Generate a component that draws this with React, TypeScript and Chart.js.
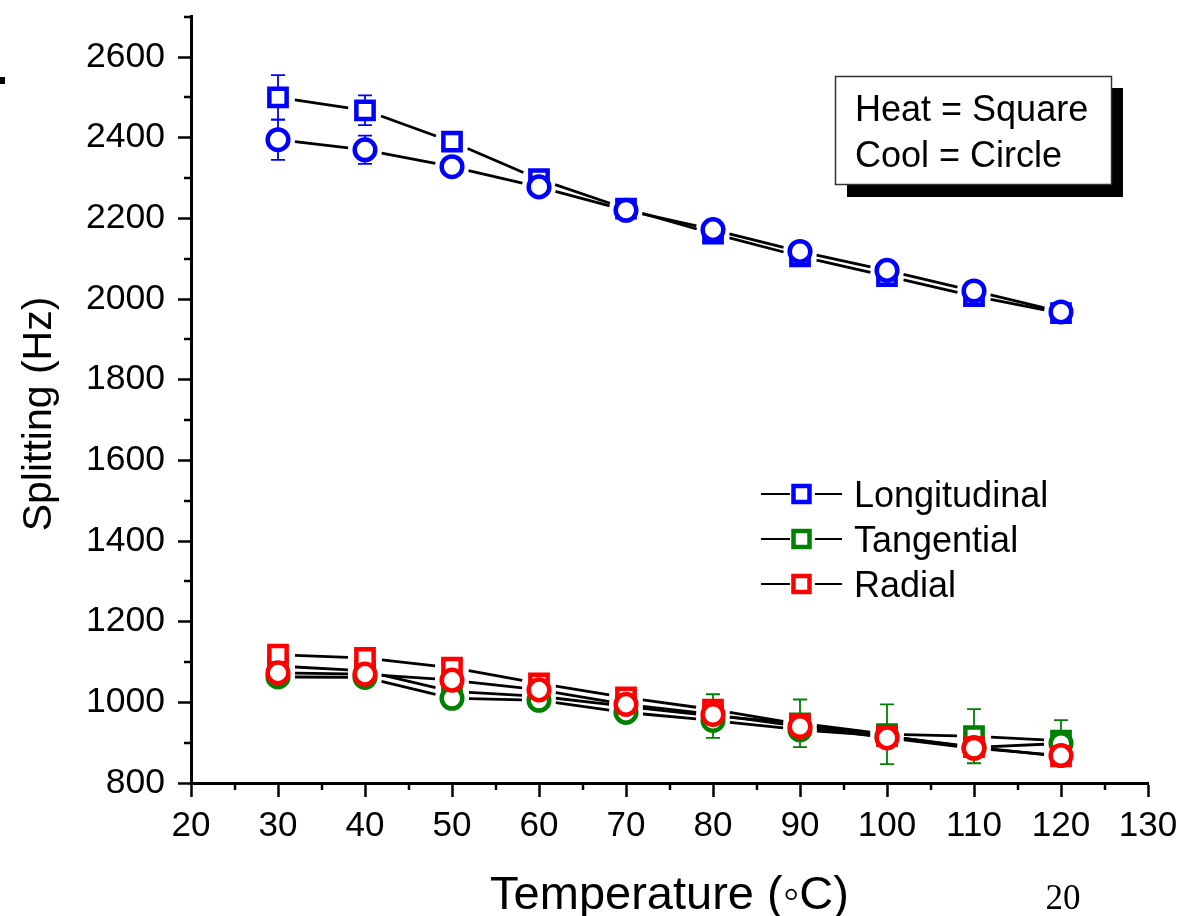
import React, { useEffect, useRef } from "react";
import { Chart, registerables } from "chart.js";

Chart.register(...registerables);

// Temperatures at which the splitting was measured (°C)
const TEMPERATURES = [30, 40, 50, 60, 70, 80, 90, 100, 110, 120];

// Longitudinal splitting (Hz)
const LONG_HEAT = [2500, 2468, 2390, 2297, 2224, 2162, 2106, 2057, 2007, 1965];
const LONG_HEAT_ERR = [55, 37, 12, 10, 10, 12, 10, 10, 10, 8];
const LONG_COOL = [2395, 2370, 2328, 2278, 2220, 2172, 2118, 2071, 2020, 1968];
const LONG_COOL_ERR = [50, 35, 10, 10, 8, 10, 10, 10, 8, 8];

// Tangential splitting (Hz)
const TANG_HEAT = [1090, 1078, 1027, 1015, 990, 966, 948, 921, 916, 905];
const TANG_HEAT_ERR = [15, 15, 15, 12, 12, 54, 59, 74, 67, 51];
const TANG_COOL = [1063, 1062, 1010, 1005, 975, 955, 932, 916, 888, 898];
const TANG_COOL_ERR = [12, 12, 25, 12, 12, 20, 20, 20, 20, 20];

// Radial splitting (Hz)
const RAD_HEAT = [1118, 1110, 1086, 1047, 1012, 982, 946, 916, 889, 866];
const RAD_HEAT_ERR = [15, 10, 10, 10, 10, 10, 10, 10, 10, 10];
const RAD_COOL = [1073, 1070, 1055, 1031, 995, 970, 940, 912, 886, 868];
const RAD_COOL_ERR = [10, 10, 10, 10, 10, 10, 10, 10, 10, 10];

// Axis ticks
const X_TICKS = [20, 30, 40, 50, 60, 70, 80, 90, 100, 110, 120, 130];
const X_MINOR = [25, 35, 45, 55, 65, 75, 85, 95, 105, 115, 125];
const Y_TICKS = [800, 1000, 1200, 1400, 1600, 1800, 2000, 2200, 2400, 2600];
const Y_MINOR = [900, 1100, 1300, 1500, 1700, 1900, 2100, 2300, 2500, 2700];

// Legend and annotation text
const LEGEND_LABELS = ["Longitudinal", "Tangential", "Radial"];
const LEGEND_COLORS = ["#0000ff", "#008000", "#ff0000"];
const NOTE_LINES = ["Heat = Square", "Cool = Circle"];
const X_TITLE = "Temperature (\u25E6C)";
const Y_TITLE = "Splitting (Hz)";
const PAGE_NUMBER = "20";

const SANS = "'Liberation Sans', Arial, Helvetica, sans-serif";
const SERIF = "'Liberation Serif', 'Times New Roman', serif";

type Series = {
  label: string;
  values: number[];
  errors: number[];
  color: string;
  style: "rect" | "circle";
  order: number;
};

const SERIES: Series[] = [
  { label: "Longitudinal heat", values: LONG_HEAT, errors: LONG_HEAT_ERR, color: LEGEND_COLORS[0], style: "rect", order: 5 },
  { label: "Longitudinal cool", values: LONG_COOL, errors: LONG_COOL_ERR, color: LEGEND_COLORS[0], style: "circle", order: 4 },
  { label: "Tangential heat", values: TANG_HEAT, errors: TANG_HEAT_ERR, color: LEGEND_COLORS[1], style: "rect", order: 3 },
  { label: "Tangential cool", values: TANG_COOL, errors: TANG_COOL_ERR, color: LEGEND_COLORS[1], style: "circle", order: 2 },
  { label: "Radial heat", values: RAD_HEAT, errors: RAD_HEAT_ERR, color: LEGEND_COLORS[2], style: "rect", order: 1 },
  { label: "Radial cool", values: RAD_COOL, errors: RAD_COOL_ERR, color: LEGEND_COLORS[2], style: "circle", order: 0 },
];

const RECT_RADIUS = 12.2;
const CIRCLE_RADIUS = 10.3;
const MARKER_BORDER = 4.5;

// Connecting segments with a small gap around each marker, plus error bars.
const underlayPlugin = {
  id: "underlay",
  beforeDatasetsDraw(chart: any) {
    const ctx = chart.ctx;
    const yScale = chart.scales.y;
    ctx.save();
    SERIES.forEach((s, i) => {
      const meta = chart.getDatasetMeta(i);
      const pts = meta.data;
      // error bars
      ctx.strokeStyle = s.color;
      ctx.lineWidth = 1.8;
      pts.forEach((p: any, k: number) => {
        const e = s.errors[k];
        const top = yScale.getPixelForValue(s.values[k] + e);
        const bot = yScale.getPixelForValue(s.values[k] - e);
        ctx.beginPath();
        ctx.moveTo(p.x, top);
        ctx.lineTo(p.x, bot);
        ctx.moveTo(p.x - 7, top);
        ctx.lineTo(p.x + 7, top);
        ctx.moveTo(p.x - 7, bot);
        ctx.lineTo(p.x + 7, bot);
        ctx.stroke();
      });
      // connecting lines
      ctx.strokeStyle = "#000";
      ctx.lineWidth = 2.8;
      const gap = 17;
      for (let k = 0; k < pts.length - 1; k++) {
        const a = pts[k];
        const b = pts[k + 1];
        const dx = b.x - a.x;
        const dy = b.y - a.y;
        const len = Math.hypot(dx, dy);
        if (len <= 2 * gap) continue;
        const ux = dx / len;
        const uy = dy / len;
        ctx.beginPath();
        ctx.moveTo(a.x + ux * gap, a.y + uy * gap);
        ctx.lineTo(b.x - ux * gap, b.y - uy * gap);
        ctx.stroke();
      }
    });
    ctx.restore();
  },
};

// Minor ticks, axis titles, legend, note box and page number.
const overlayPlugin = {
  id: "overlay",
  afterDraw(chart: any) {
    const ctx = chart.ctx;
    const { left, bottom } = chart.chartArea;
    const xs = chart.scales.x;
    const ys = chart.scales.y;
    ctx.save();

    // minor ticks
    ctx.strokeStyle = "#000";
    ctx.lineWidth = 2.5;
    ctx.beginPath();
    X_MINOR.forEach((v) => {
      const px = Math.round(xs.getPixelForValue(v));
      ctx.moveTo(px, bottom);
      ctx.lineTo(px, bottom + 7);
    });
    Y_MINOR.forEach((v) => {
      const py = Math.round(ys.getPixelForValue(v));
      ctx.moveTo(left - 7, py);
      ctx.lineTo(left, py);
    });
    ctx.stroke();

    // axis titles
    ctx.fillStyle = "#000";
    ctx.font = `47px ${SANS}`;
    ctx.textAlign = "center";
    ctx.textBaseline = "alphabetic";
    ctx.fillText(X_TITLE, (left + chart.chartArea.right) / 2, 909);

    ctx.save();
    ctx.translate(51, 414);
    ctx.rotate(-Math.PI / 2);
    ctx.font = `41px ${SANS}`;
    ctx.fillText(Y_TITLE, 0, 0);
    ctx.restore();

    // legend
    ctx.textAlign = "left";
    LEGEND_LABELS.forEach((label, i) => {
      const cy = 494 + i * 45;
      ctx.strokeStyle = "#000";
      ctx.lineWidth = 2;
      ctx.beginPath();
      ctx.moveTo(761, cy);
      ctx.lineTo(790, cy);
      ctx.moveTo(815, cy);
      ctx.lineTo(842, cy);
      ctx.stroke();
      ctx.fillStyle = "#fff";
      ctx.strokeStyle = LEGEND_COLORS[i];
      ctx.lineWidth = 4.5;
      ctx.beginPath();
      ctx.rect(793.5, cy - 8, 16, 16);
      ctx.fill();
      ctx.stroke();
      ctx.fillStyle = "#000";
      ctx.font = `36px ${SANS}`;
      ctx.fillText(label, 854, cy + 12.5);
    });

    // note box with drop shadow
    ctx.fillStyle = "#000";
    ctx.fillRect(847, 88, 276, 109);
    ctx.fillStyle = "#fff";
    ctx.fillRect(835, 76, 277, 109);
    ctx.strokeStyle = "#333";
    ctx.lineWidth = 1.5;
    ctx.strokeRect(835.5, 76.5, 276, 108);
    ctx.fillStyle = "#000";
    ctx.font = `36px ${SANS}`;
    NOTE_LINES.forEach((line, i) => {
      ctx.fillText(line, 855, 121 + i * 46);
    });

    // page number
    ctx.font = `35px ${SERIF}`;
    ctx.textAlign = "center";
    ctx.fillText(PAGE_NUMBER, 1063, 909);

    // cropped mark at the left edge
    ctx.fillRect(0, 77, 5, 7);

    ctx.restore();
  },
};

export default function App() {
  const canvasRef = useRef<HTMLCanvasElement | null>(null);

  useEffect(() => {
    const canvas = canvasRef.current;
    if (!canvas) return;

    const datasets = SERIES.map((s) => ({
      label: s.label,
      data: TEMPERATURES.map((t, k) => ({ x: t, y: s.values[k] })),
      showLine: false,
      pointStyle: s.style,
      pointRadius: s.style === "rect" ? RECT_RADIUS : CIRCLE_RADIUS,
      pointHoverRadius: s.style === "rect" ? RECT_RADIUS : CIRCLE_RADIUS,
      pointBorderWidth: MARKER_BORDER,
      pointBackgroundColor: "#ffffff",
      pointBorderColor: s.color,
      borderColor: s.color,
      order: s.order,
    }));

    const chart = new Chart(canvas, {
      type: "scatter",
      data: { datasets },
      plugins: [underlayPlugin, overlayPlugin],
      options: {
        responsive: false,
        animation: false,
        devicePixelRatio: 1,
        clip: false,
        layout: { padding: { left: 0, top: 14, right: 43, bottom: 0 } },
        plugins: {
          legend: { display: false },
          tooltip: { enabled: false },
        },
        scales: {
          x: {
            type: "linear",
            min: 20,
            max: 130,
            afterBuildTicks: (scale: any) => {
              scale.ticks = X_TICKS.map((v) => ({ value: v }));
            },
            afterFit: (scale: any) => {
              scale.height = 133;
              scale.paddingLeft = 0;
              scale.paddingRight = 0;
            },
            ticks: {
              color: "#000",
              font: { family: SANS, size: 35 },
              padding: 8,
              maxRotation: 0,
              autoSkip: false,
              callback: (v: any) => String(v),
            },
            grid: {
              drawOnChartArea: false,
              drawTicks: true,
              tickLength: 14,
              tickWidth: 2.5,
              tickColor: "#000",
            },
            border: { display: true, color: "#000", width: 3 },
          },
          y: {
            type: "linear",
            min: 800,
            max: 2700,
            afterBuildTicks: (scale: any) => {
              scale.ticks = Y_TICKS.map((v) => ({ value: v }));
            },
            afterFit: (scale: any) => {
              scale.width = 191;
              scale.paddingTop = 0;
              scale.paddingBottom = 0;
            },
            ticks: {
              color: "#000",
              font: { family: SANS, size: 35.5 },
              padding: 13,
              autoSkip: false,
              callback: (v: any) => String(v),
            },
            grid: {
              drawOnChartArea: false,
              drawTicks: true,
              tickLength: 13,
              tickWidth: 2.5,
              tickColor: "#000",
            },
            border: { display: true, color: "#000", width: 3 },
          },
        },
      },
    } as any);

    return () => chart.destroy();
  }, []);

  return (
    <div style={{ position: "absolute", left: 0, top: 0, width: 1191, height: 916, background: "#fff" }}>
      <canvas ref={canvasRef} width={1191} height={916} style={{ display: "block" }} />
    </div>
  );
}
